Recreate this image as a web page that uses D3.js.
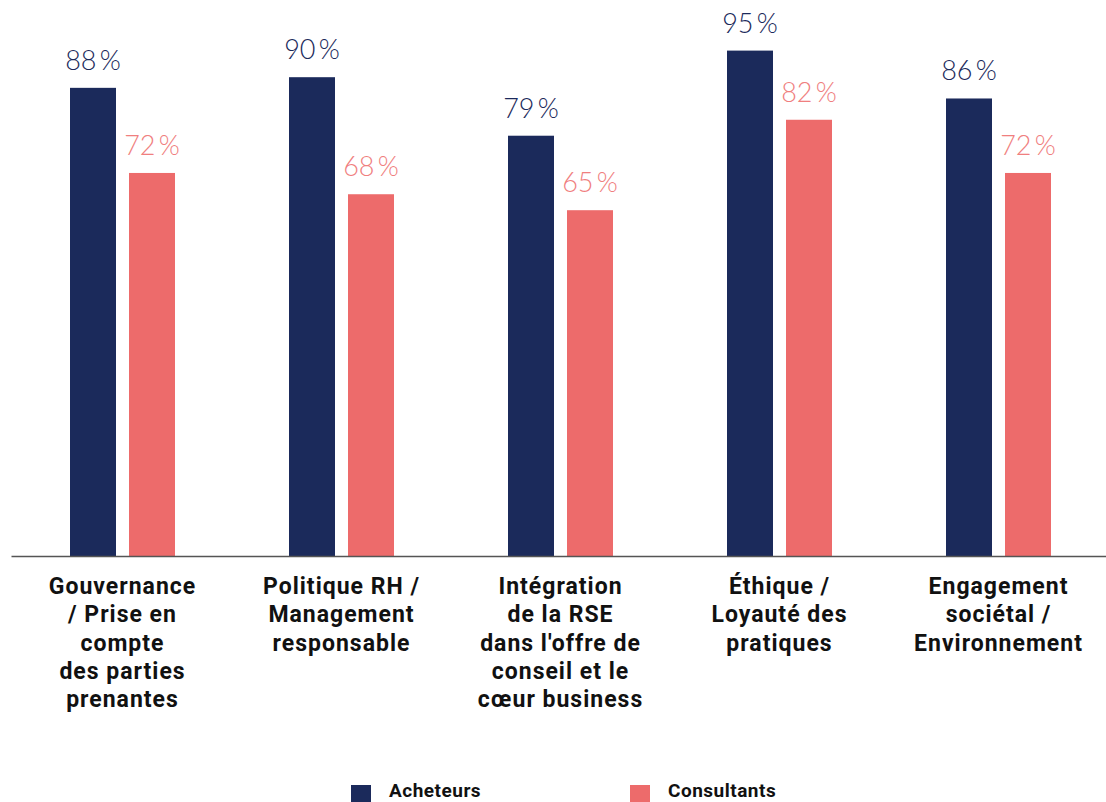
<!DOCTYPE html>
<html>
<head>
<meta charset="utf-8">
<script src="https://cdn.jsdelivr.net/npm/d3@7"></script>
<style>
  html, body { margin: 0; padding: 0; background: #fff; }
  svg { display: block; }
</style>
</head>
<body>
<svg id="chart" width="1106" height="802"></svg>
<script>
// Thèmes RSE et part des répondants (en %)
const categories = [
  ["Gouvernance", "/ Prise en", "compte", "des parties", "prenantes"],
  ["Politique RH /", "Management", "responsable"],
  ["Intégration", "de la RSE", "dans l'offre de", "conseil et le", "cœur business"],
  ["Éthique /", "Loyauté des", "pratiques"],
  ["Engagement", "sociétal /", "Environnement"]
];
const seriesNames = ["Acheteurs", "Consultants"];
const acheteurs = [88, 90, 79, 95, 86];
const consultants = [72, 68, 65, 82, 72];

const barColors = ["#1b2a5b", "#ed6b6b"];
const labelColors = ["#1b2a5b", "#f07f7f"];

const svg = d3.select("#chart");
const baseY = 556;

const x = d3.scaleBand()
  .domain(d3.range(categories.length))
  .range([13, 1108]);

const y = d3.scaleLinear().domain([0, 100]).range([baseY, 24]);

const values = [acheteurs, consultants];
const barW = 46;

categories.forEach((cat, i) => {
  const cx = x(i) + x.bandwidth() / 2;
  const g = svg.append("g");
  values.forEach((vals, s) => {
    const bx = cx - 52.5 + s * 59;
    g.append("rect")
      .attr("x", bx)
      .attr("y", y(vals[i]))
      .attr("width", barW)
      .attr("height", y(0) - y(vals[i]))
      .attr("fill", barColors[s]);
    g.append("text")
      .attr("x", bx + barW / 2)
      .attr("y", y(vals[i]) - 18)
      .attr("text-anchor", "middle")
      .attr("font-family", "Lato, 'Open Sans', sans-serif")
      .attr("font-weight", 300)
      .attr("font-size", 27)
      .attr("fill", labelColors[s])
      .text(vals[i] + "\u2009%");
  });
  // libellé de catégorie
  const t = svg.append("text")
    .attr("text-anchor", "middle")
    .attr("font-family", "Roboto, sans-serif")
    .attr("font-weight", 700)
    .attr("font-size", 23)
    .attr("letter-spacing", 1)
    .attr("fill", "#111");
  cat.forEach((line, k) => {
    t.append("tspan")
      .attr("x", cx)
      .attr("y", 594 + k * 28.3)
      .text(line);
  });
});

// axe horizontal
svg.append("g")
  .attr("transform", `translate(0,${baseY})`)
  .call(d3.axisBottom(d3.scaleLinear().range([11, 1106])).ticks(0).tickSize(0).tickFormat(""))
  .call(g => g.select(".domain").attr("stroke", "#555").attr("stroke-width", 1.3));

// légende
const legendX = [351, 630];
seriesNames.forEach((name, s) => {
  svg.append("rect")
    .attr("x", legendX[s])
    .attr("y", 785)
    .attr("width", 20)
    .attr("height", 20)
    .attr("fill", barColors[s]);
  svg.append("text")
    .attr("x", legendX[s] + 38)
    .attr("y", 797)
    .attr("font-family", "Roboto, sans-serif")
    .attr("font-weight", 700)
    .attr("font-size", 19)
    .attr("letter-spacing", 0.5)
    .attr("fill", "#111")
    .text(name);
});
</script>
</body>
</html>
